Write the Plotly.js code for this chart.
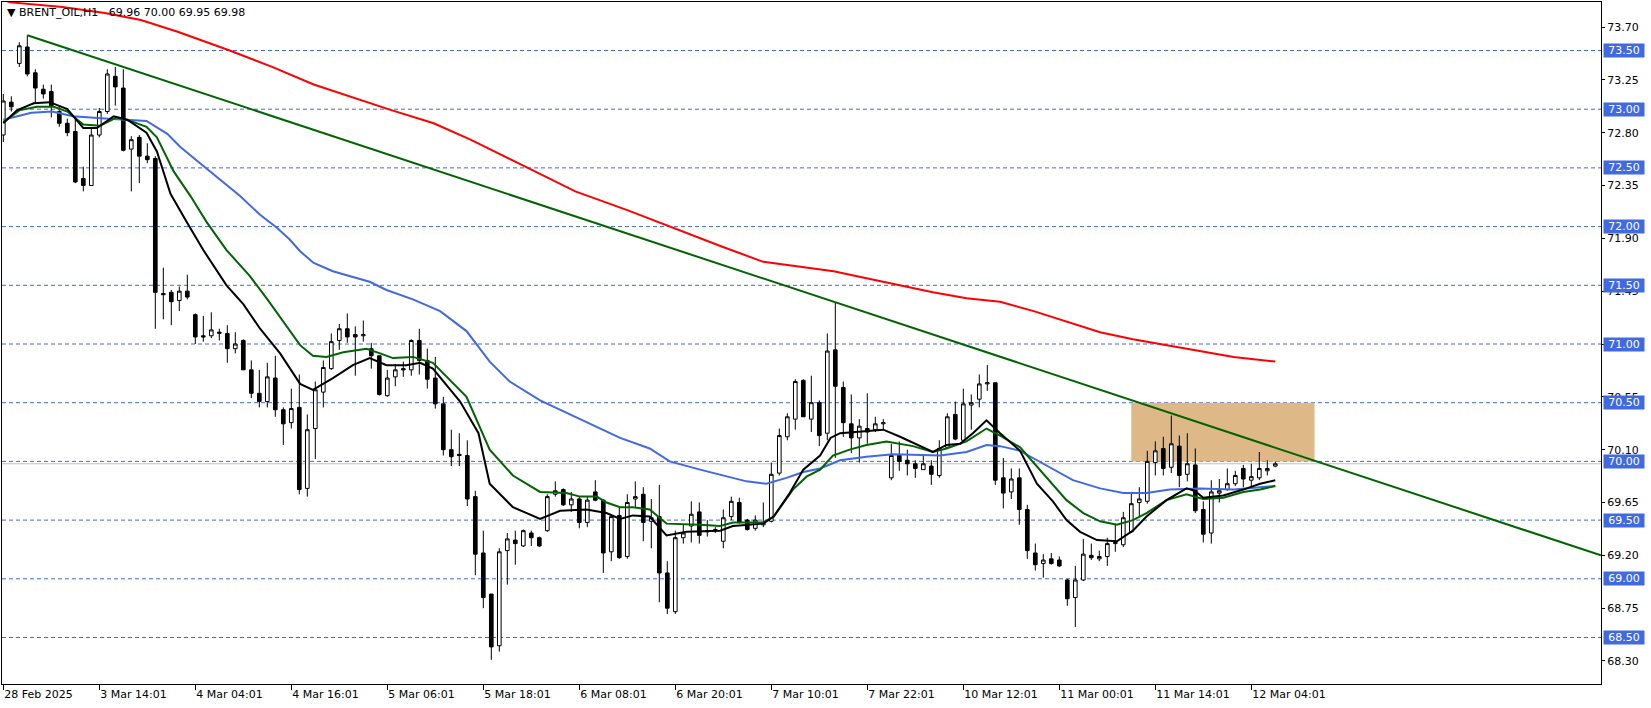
<!DOCTYPE html>
<html><head><meta charset="utf-8">
<script src="https://cdn.plot.ly/plotly-3.0.1.min.js"></script>
<style>html,body{margin:0;padding:0;background:#fff;overflow:hidden}#chart{width:1651px;height:708px}</style>
</head><body><div id="chart"></div>
<script>
const symbolName = "BRENT_OIL,H1";
const tickLabels = ["28 Feb 2025","3 Mar 14:01","4 Mar 04:01","4 Mar 16:01","5 Mar 06:01","5 Mar 18:01","6 Mar 08:01","6 Mar 20:01","7 Mar 10:01","7 Mar 22:01","10 Mar 12:01","11 Mar 00:01","11 Mar 14:01","12 Mar 04:01"];
const tickBars = [0,12,24,36,48,60,72,84,96,108,120,132,144,156];
const priceTicks = [68.30,68.75,69.20,69.65,70.10,70.55,71.00,71.45,71.90,72.35,72.80,73.25,73.70];
const levels = [73.5,73.0,72.5,72.0,71.5,71.0,70.5,70.0,69.5,69.0,68.5];

const open = [72.78,73.06,73.39,73.53,73.31,73.17,73.15,72.98,72.88,72.81,
72.41,72.35,72.78,72.98,73.28,73.18,72.66,72.76,72.60,72.58,
71.43,71.44,71.37,71.45,71.25,71.07,71.07,71.09,71.09,70.96,
71.03,70.78,70.58,70.51,70.71,70.44,70.33,70.46,69.77,70.28,
70.59,70.79,71.03,71.13,71.08,71.07,70.96,70.90,70.56,70.72,
70.79,70.78,71.03,70.86,70.71,70.49,70.10,70.06,70.05,69.70,
69.22,68.87,68.43,69.24,69.33,69.28,69.39,69.35,69.41,69.72,
69.76,69.63,69.68,69.48,69.74,69.67,69.23,69.54,69.19,69.68,
69.72,69.49,69.53,69.05,68.72,69.35,69.45,69.57,69.40,69.41,
69.32,69.53,69.65,69.50,69.43,69.46,69.49,69.90,70.21,70.36,
70.69,70.36,70.50,70.24,70.95,70.63,70.32,70.20,70.28,70.27,
70.32,69.86,70.05,70.01,69.98,69.93,69.96,69.88,70.12,70.40,
70.18,70.48,70.53,70.66,70.67,69.86,69.74,69.86,69.59,69.22,
69.13,69.17,69.16,68.99,68.84,68.99,69.20,69.17,69.19,69.30,
69.29,69.40,69.65,69.66,69.99,70.11,69.95,70.13,69.89,69.97,
69.59,69.39,69.73,69.76,69.81,69.94,69.84,69.86,69.92,69.96];
const high = [73.13,73.11,73.57,73.63,73.34,73.21,73.21,73.02,72.92,72.94,
72.51,72.84,73.01,73.34,73.36,73.34,72.77,72.78,72.71,72.60,
71.65,71.46,71.49,71.59,71.26,71.24,71.27,71.13,71.16,71.10,
71.04,70.86,70.78,70.84,70.90,70.46,70.62,70.74,70.40,70.68,
70.86,71.09,71.17,71.26,71.15,71.20,71.01,70.90,70.78,70.83,
70.85,71.04,71.13,70.96,70.89,70.55,70.27,70.24,70.18,69.75,
69.41,68.87,69.26,69.39,69.41,69.42,69.41,69.36,69.72,69.83,
69.77,69.74,69.70,69.70,69.84,69.68,69.54,69.61,69.72,69.83,
69.78,69.68,69.80,69.15,69.41,69.46,69.66,69.65,69.50,69.44,
69.59,69.70,69.69,69.51,69.54,69.65,69.99,70.28,70.41,70.70,
70.70,70.73,70.52,71.09,71.35,70.68,70.57,70.36,70.58,70.38,
70.36,70.15,70.17,70.10,70.01,70.05,70.01,70.18,70.41,70.51,
70.62,70.57,70.74,70.82,70.67,70.03,69.94,69.94,69.63,69.30,
69.21,69.22,69.19,69.00,69.11,69.34,69.30,69.24,69.35,69.47,
69.57,69.73,69.78,70.09,70.17,70.21,70.39,70.22,70.24,70.11,
69.66,69.84,69.85,69.94,69.92,69.97,69.98,70.08,70.01,70.00];
const low = [72.72,72.98,73.36,73.28,73.05,73.09,72.93,72.85,72.77,72.37,
72.30,72.35,72.76,72.96,73.03,72.64,72.30,72.37,72.54,71.13,
71.21,71.16,71.28,71.38,71.00,71.02,71.05,71.03,70.84,70.92,
70.78,70.54,70.46,70.46,70.38,70.14,70.28,69.72,69.70,70.02,
70.46,70.78,70.95,71.01,70.73,71.02,70.79,70.56,70.55,70.64,
70.72,70.73,70.74,70.62,70.45,70.05,69.96,69.96,69.62,69.03,
68.75,68.31,68.38,68.95,69.12,69.27,69.28,69.27,69.40,69.70,
69.62,69.57,69.43,69.44,69.66,69.05,69.15,69.17,69.17,69.61,
69.32,69.26,68.80,68.70,68.70,69.30,69.31,69.30,69.36,69.39,
69.26,69.50,69.47,69.41,69.41,69.44,69.48,69.88,70.18,70.27,
70.38,70.25,70.13,70.18,70.03,70.21,70.07,69.99,70.15,70.25,
70.27,69.84,69.92,69.88,69.86,69.93,69.80,69.86,70.11,70.18,
70.16,70.27,70.46,70.60,69.80,69.60,69.68,69.46,69.17,69.07,
69.01,69.12,69.10,68.77,68.59,68.98,69.16,69.15,69.11,69.23,
69.27,69.39,69.53,69.64,69.88,69.88,69.90,69.78,69.83,69.56,
69.31,69.30,69.65,69.75,69.79,69.78,69.78,69.84,69.88,69.95];
const close = [73.07,73.02,73.54,73.30,73.18,73.13,73.03,72.88,72.80,72.38,
72.35,72.78,72.98,73.30,73.19,72.65,72.74,72.60,72.57,71.44,
71.42,71.36,71.45,71.40,71.06,71.06,71.12,71.10,70.96,71.00,
70.78,70.58,70.51,70.72,70.44,70.32,70.45,69.76,70.27,70.61,
70.80,71.02,71.13,71.06,71.06,71.08,70.90,70.57,70.71,70.78,
70.78,71.03,70.86,70.70,70.49,70.10,70.04,70.05,69.68,69.21,
68.84,68.42,69.23,69.34,69.30,69.41,69.35,69.28,69.70,69.75,
69.63,69.68,69.48,69.67,69.67,69.22,69.53,69.18,69.65,69.70,
69.48,69.52,69.05,68.75,69.35,69.39,69.55,69.37,69.41,69.42,
69.52,69.66,69.48,69.42,69.50,69.48,69.89,70.22,70.38,70.68,
70.38,70.50,70.22,70.94,70.64,70.33,70.20,70.30,70.25,70.32,
70.33,70.05,70.00,69.98,69.94,69.98,69.89,70.11,70.38,70.19,
70.49,70.50,70.66,70.67,69.84,69.73,69.85,69.59,69.24,69.12,
69.16,69.13,69.11,68.83,68.99,69.21,69.18,69.19,69.30,69.31,
69.52,69.64,69.68,70.00,70.09,69.94,70.15,69.88,69.98,69.58,
69.38,69.74,69.75,69.81,69.88,69.85,69.87,69.94,69.94,69.98];

// moving averages (bar position, price)
const redX = [0,0.9,7.4,12.7,17.2,21.8,28.3,33.6,38.8,44,48.6,53.8,58.4,65,71.5,78,83.3,89.8,95,99.6,103.8,107.9,112.1,116.2,120.4,124.6,128.8,132.9,137.1,141.2,145.4,149.6,153.8,159];
const redY = [73.93,73.91,73.87,73.82,73.76,73.66,73.50,73.36,73.21,73.09,72.99,72.88,72.74,72.52,72.30,72.14,72.00,71.83,71.70,71.66,71.62,71.56,71.50,71.44,71.39,71.36,71.28,71.19,71.10,71.04,70.99,70.94,70.89,70.85];
const blueX = [0,3.5,6.1,8.7,12.7,17.9,20.5,22.1,24.4,27.1,29.6,32.1,34.2,35.8,37.1,38.8,41.2,43.7,45.8,47.9,51.2,54.6,57.9,60.8,63.3,67.1,71.2,74.6,77.1,80.8,83.3,87.1,90.4,92.9,95.4,97.9,100,102.1,104.6,107.9,111.2,117.1,120.4,122.9,124.6,127.1,130,133.7,137.1,140,142.9,145.8,149.6,153.8,157.1,159];
const blueY = [72.91,72.97,72.98,72.94,72.92,72.90,72.79,72.68,72.55,72.40,72.26,72.10,71.99,71.89,71.79,71.69,71.62,71.57,71.53,71.46,71.38,71.28,71.11,70.85,70.68,70.52,70.39,70.28,70.20,70.11,70.00,69.93,69.87,69.83,69.81,69.86,69.91,69.94,70.01,70.04,70.06,70.05,70.08,70.14,70.13,70.09,69.98,69.84,69.77,69.73,69.73,69.76,69.77,69.76,69.78,69.79];
const greenX = [0,2,4.2,6.3,8,10,12.1,14.2,16.3,17.9,19.2,21.3,23.4,25.4,27.9,30.8,32.9,35.8,37.1,38.7,40.4,42.5,45.4,47.1,48.7,51.2,53.7,57.9,60.8,63.7,67.1,70.4,72.1,74.2,75.4,77.1,78.7,80.8,82.9,87.1,89.6,91.2,95,96.3,98.7,100.4,102.1,103.7,105.8,107.9,110.4,113.7,116.2,117.9,120.4,122.9,124.6,127.1,129.6,132.9,135,137.1,139.2,141.2,142.9,145.4,147.9,150,152.5,155,157.1,159];
const greenY = [72.89,72.99,73.02,73.02,72.98,72.87,72.86,72.93,72.89,72.85,72.76,72.47,72.26,72.04,71.80,71.58,71.39,71.12,70.99,70.90,70.89,70.93,70.96,70.92,70.88,70.89,70.84,70.55,70.10,69.88,69.74,69.73,69.70,69.70,69.65,69.61,69.61,69.59,69.47,69.46,69.45,69.48,69.48,69.53,69.76,69.87,69.93,70.05,70.10,70.14,70.17,70.13,70.08,70.11,70.17,70.28,70.22,70.12,69.93,69.67,69.56,69.49,69.46,69.50,69.56,69.67,69.72,69.68,69.69,69.74,69.76,69.79];
const blackX = [0,1.7,3.8,5.8,8,10,11.7,13.8,15.5,17.9,19.2,20.9,23,25,27.9,30,32.1,34.6,37.1,38.7,41.2,43.7,45.8,47.9,50.4,52.1,53.7,57.1,59.4,60.8,63.7,67.1,69.6,72.9,75.4,77.1,78.7,80.8,82.9,85.4,89.6,91.2,95,96.3,98.3,100,102.1,103.4,104.6,107.9,110,112.1,116.2,117.9,119.6,121.2,122.9,124.6,127.1,129.2,131.2,132.9,134.6,136.7,139.2,141.2,142.9,145.4,147.9,148.9,150,152.5,155,157.1,159];
const blackY = [72.88,72.99,73.05,73.06,73.00,72.84,72.84,72.94,72.91,72.80,72.64,72.28,72.03,71.80,71.50,71.34,71.13,70.92,70.66,70.61,70.71,70.82,70.88,70.82,70.82,70.84,70.79,70.51,70.24,69.81,69.61,69.51,69.58,69.59,69.56,69.51,69.54,69.53,69.37,69.40,69.41,69.45,69.47,69.53,69.73,69.93,70.05,70.20,70.24,70.26,70.27,70.21,70.08,70.14,70.15,70.24,70.35,70.24,70.09,69.81,69.66,69.50,69.40,69.33,69.32,69.41,69.53,69.67,69.77,69.75,69.69,69.71,69.76,69.81,69.84];

// trend line and supply zone (bar position, price)
const trendX = [3, 199.7];
const trendY = [73.63, 69.20];
const zoneX = [141, 163.9];
const zoneY = [70.0, 70.5];

const bars = open.map((_, i) => i);
const last = close.length - 1;
const FONT = "DejaVu Sans";

const traces = [
  {type:'candlestick', x:bars, open:open, high:high, low:low, close:close,
   increasing:{line:{color:'#000000', width:1}, fillcolor:'#ffffff'},
   decreasing:{line:{color:'#000000', width:1}, fillcolor:'#000000'},
   whiskerwidth:0, hoverinfo:'skip', showlegend:false},
  {type:'scatter', mode:'lines', x:redX, y:redY, line:{color:'#ff0000', width:2}, hoverinfo:'skip', showlegend:false},
  {type:'scatter', mode:'lines', x:blueX, y:blueY, line:{color:'#4169e1', width:2}, hoverinfo:'skip', showlegend:false},
  {type:'scatter', mode:'lines', x:greenX, y:greenY, line:{color:'#006400', width:2}, hoverinfo:'skip', showlegend:false},
  {type:'scatter', mode:'lines', x:blackX, y:blackY, line:{color:'#000000', width:2}, hoverinfo:'skip', showlegend:false},
  {type:'scatter', mode:'lines', x:trendX, y:trendY, line:{color:'#006400', width:2}, hoverinfo:'skip', showlegend:false}
];

const shapes = [
  {type:'rect', xref:'x', yref:'y', x0:zoneX[0], x1:zoneX[1], y0:zoneY[0], y1:zoneY[1], fillcolor:'#deb887', line:{width:0}, layer:'below'}
];
levels.forEach(v => shapes.push({type:'line', xref:'paper', yref:'y', x0:0, x1:1, y0:v, y1:v, line:{color:'#4169e1', width:1, dash:'4px,3px'}, layer:'below'}));
shapes.push({type:'line', xref:'paper', yref:'y', x0:0, x1:1, y0:close[last], y1:close[last], line:{color:'#c0c0c0', width:1}, layer:'below'});

const annotations = levels.map(v => ({
  xref:'paper', yref:'y', x:1, y:v, xanchor:'left', yanchor:'middle', xshift:2,
  text:v.toFixed(2), showarrow:false, bgcolor:'#4169e1', width:40, height:13, borderpad:0, align:'center',
  font:{family:FONT, size:11, color:'#ffffff'}
}));
annotations.push({
  xref:'paper', yref:'paper', x:0, y:1, xanchor:'left', yanchor:'top', xshift:3, yshift:-2,
  text:'▼ ' + symbolName + '   ' + [open[last], high[last], low[last], close[last]].map(v => v.toFixed(2)).join(' '),
  showarrow:false, font:{family:FONT, size:11, color:'#000000'}
});

const layout = {
  width:1651, height:708,
  margin:{l:2, r:50, t:2, b:24, pad:0},
  paper_bgcolor:'#ffffff', plot_bgcolor:'#ffffff',
  font:{family:FONT, size:11, color:'#000000'},
  showlegend:false, hovermode:false,
  xaxis:{type:'linear', range:[-0.1625, 199.7125], rangeslider:{visible:false},
    showgrid:false, zeroline:false, showline:true, mirror:true, linecolor:'#000000', linewidth:1,
    tickmode:'array', tickvals:tickBars, ticktext:tickLabels, ticks:'outside', ticklen:5, tickcolor:'#000000',
    ticklabelposition:'outside right', tickfont:{family:FONT, size:11, color:'#000000'}, fixedrange:true},
  yaxis:{side:'right', range:[68.104, 73.913], showgrid:false, zeroline:false,
    showline:true, mirror:true, linecolor:'#000000', linewidth:1,
    tickmode:'array', tickvals:priceTicks, ticktext:priceTicks.map(v => v.toFixed(2)),
    ticks:'outside', ticklen:3, tickcolor:'#000000', tickfont:{family:FONT, size:11, color:'#000000'}, fixedrange:true},
  boxgap:0.35,
  shapes:shapes, annotations:annotations
};

Plotly.newPlot('chart', traces, layout, {displayModeBar:false, staticPlot:true});
</script></body></html>
